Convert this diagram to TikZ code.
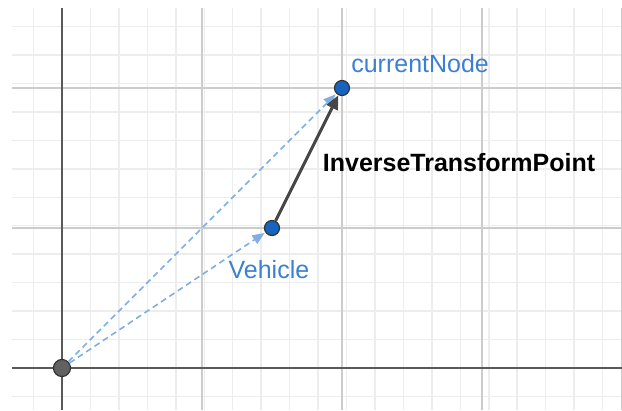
\documentclass[tikz,border=0pt]{standalone}
\usepackage{fontspec}
\setmainfont{Liberation Sans}
\usetikzlibrary{arrows.meta}
\definecolor{ptblue}{HTML}{1565C0}
\definecolor{lblblue}{HTML}{3D7FD0}
\definecolor{vecblue}{HTML}{80AEE2}

\begin{document}
\begin{tikzpicture}[x=28pt, y=28pt,
    pt/.style={circle, draw=black!80, line width=1.2pt, fill=ptblue, inner sep=0pt, minimum size=15pt},
    lbl/.style={font=\fontsize{25}{30}\selectfont, text=lblblue, inner sep=0pt},
    dashvec/.style={vecblue, line width=1.6pt, dash pattern=on 6pt off 4pt,
        -{Triangle[length=12pt, width=10pt]}, shorten >=1pt},
    ]
    \useasboundingbox (-2.214,-1.5) rectangle (20,13.143);

    % Grid
    \draw[black!7, line width=1.5pt] (-1.786,-1.5) grid (20,12.857);
    \draw[black!20, line width=1.5pt, step=5] (-1.786,-1.5) grid (20,12.857);

    % Axes
    \draw[black!65, line width=2pt] (-1.786,0) -- (20,0);
    \draw[black!65, line width=2pt] (0,-1.5) -- (0,12.857);

    % Points
    \node[pt, fill=black!62, minimum size=17pt] (origin) at (0,0) {};
    \node[pt] (vehicle) at (7.5,5) {};
    \node[pt] (current) at (10,10) {};

    % Labels
    \node[lbl] (currentlbl) at (12.79,10.89) {currentNode};
    \node[lbl] (vehiclelbl) at (7.39,3.5) {Vehicle};
    \node[font=\fontsize{25}{30}\selectfont\bfseries, inner sep=0pt] (itplbl) at (14.18,7.32) {InverseTransformPoint};

    % Vectors
    \draw[dashvec] (origin) -- (vehicle);
    \draw[dashvec] (origin) -- (current);
    \draw[black!72, line width=3pt, -{Triangle[length=14pt, width=12pt]}] (vehicle) -- (current);
\end{tikzpicture}
\end{document}
